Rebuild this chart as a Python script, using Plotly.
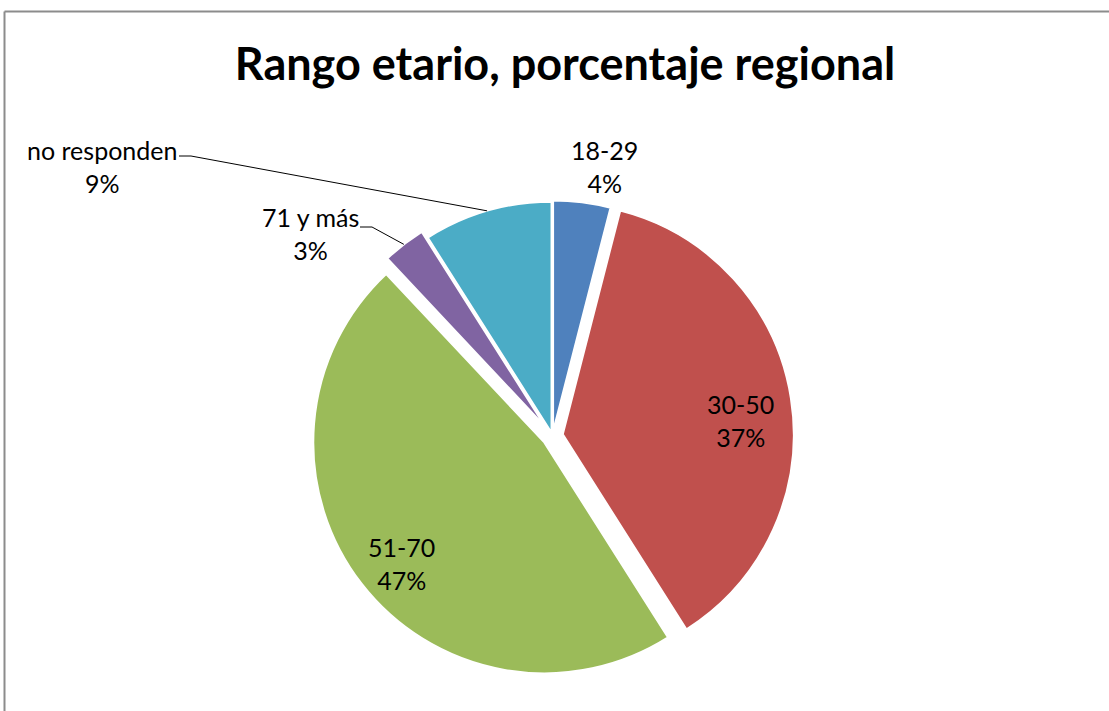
import math
import plotly.graph_objects as go

# ---- data ----
categories = ["18-29", "30-50", "51-70", "71 y más", "no responden"]
percentages = [4, 37, 47, 3, 9]
colors = ["#4F81BD", "#C0504D", "#9BBB59", "#8064A2", "#4BACC6"]
title_text = "Rango etario, porcentaje regional"

# ---- layout / style constants ----
W, H = 1109, 711
CX, CY, R = 552.5, 436, 231        # pie centre and radius in pixels
pulls = [0.02, 0.045, 0.045, 0.05, 0.015]
# label block centres (pixels)
label_pos = [(604, 167), (740, 420), (401, 563), (310, 234), (102, 167)]
# leader line starts (pixels), None = no leader line
leader_start = [None, None, None, (360, 227), (179, 156)]
FONT = "Lato"
LABEL_SIZE = 25

maxpull = max(pulls)
half = R * (1 + maxpull)


def px_to_paper(x, y):
    return x / W, 1 - y / H


dx0, dy0 = px_to_paper(CX - half, CY + half)
dx1, dy1 = px_to_paper(CX + half, CY - half)

fig = go.Figure(go.Pie(
    labels=categories,
    values=percentages,
    sort=False,
    direction="clockwise",
    rotation=0,
    pull=pulls,
    marker=dict(colors=colors, line=dict(color="white", width=2)),
    textinfo="none",
    hoverinfo="label+percent",
    showlegend=False,
    domain=dict(x=[dx0, dx1], y=[dy0, dy1]),
))

annotations = []
shapes = []
total = sum(percentages)
cum = 0
for i, (cat, v) in enumerate(zip(categories, percentages)):
    mid = (cum + v / 2) / total * 2 * math.pi
    cum += v
    ux, uy = math.sin(mid), -math.cos(mid)
    scx = CX + pulls[i] * R * ux
    scy = CY + pulls[i] * R * uy
    txt = f"{cat}<br>{round(v / total * 100)}%"
    if leader_start[i] is not None:
        ex, ey = scx + R * ux, scy + R * uy
        sx, sy = leader_start[i]
        p0 = px_to_paper(sx, sy)
        p1 = px_to_paper(sx + 12, sy)
        p2 = px_to_paper(ex, ey)
        shapes.append(dict(
            type="path", xref="paper", yref="paper",
            path=f"M {p0[0]} {p0[1]} L {p1[0]} {p1[1]} L {p2[0]} {p2[1]}",
            line=dict(color="black", width=1),
        ))
    ax, ay = px_to_paper(*label_pos[i])
    annotations.append(dict(
        x=ax, y=ay, xref="paper", yref="paper", text=txt, showarrow=False,
        xanchor="center", yanchor="middle", align="center",
        font=dict(family=FONT, size=LABEL_SIZE, color="#000000"),
    ))

# chart frame (cropped at right and bottom): only top and left edges visible
fx0, fy0 = px_to_paper(4.5, 11.5)
shapes.append(dict(type="line", xref="paper", yref="paper",
                   x0=fx0, y0=fy0, x1=1.0, y1=fy0,
                   line=dict(color="#8C8C8C", width=2), layer="below"))
shapes.append(dict(type="line", xref="paper", yref="paper",
                   x0=fx0, y0=0.0, x1=fx0, y1=fy0,
                   line=dict(color="#8C8C8C", width=2), layer="below"))

fig.update_layout(
    width=W, height=H,
    margin=dict(l=0, r=0, t=0, b=0),
    paper_bgcolor="white",
    plot_bgcolor="white",
    title=dict(text=f"<b>{title_text}</b>", x=565 / W, xanchor="center",
               y=1 - 64 / H, yanchor="middle",
               font=dict(family=FONT, size=45, color="#000000")),
    annotations=annotations,
    shapes=shapes,
)

fig.write_html("out.html",
               config={"displayModeBar": False},
               post_script="document.body.style.margin='0px';"
                           "document.body.style.overflow='hidden';")
